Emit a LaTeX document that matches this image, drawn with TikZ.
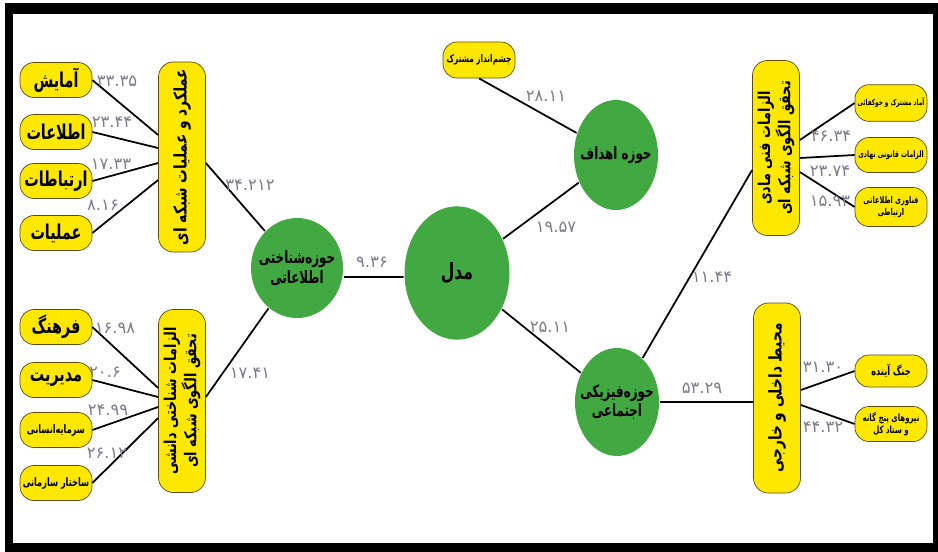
\documentclass[tikz,border=0pt]{standalone}
\usepackage{fontspec}
\usetikzlibrary{shapes.geometric}
\TeXXeTstate=1
\newfontfamily\fa[Script=Arabic]{DejaVu Sans}
\newfontfamily\fan[Script=Arabic,FakeStretch=0.7]{DejaVu Sans}
\newfontfamily\fav[Script=Arabic,FakeStretch=0.78]{DejaVu Sans}

\definecolor{boxyellow}{RGB}{255,232,0}
\definecolor{boxedge}{RGB}{95,75,10}
\definecolor{ballgreen}{RGB}{66,168,66}
\definecolor{numgray}{RGB}{125,125,138}

\tikzset{item/.style={draw=boxedge, fill=boxyellow, rounded corners=0.42cm, line width=0.6pt,
                      minimum width=2.16cm, minimum height=1.05cm, inner sep=1pt, align=center,
                      font=\fan\bfseries\fontsize{17.5}{19}\selectfont}}
\tikzset{vbox/.style={draw=boxedge, fill=boxyellow, rounded corners=0.45cm, line width=0.6pt,
                      rotate=90, minimum height=1.41cm, inner sep=1pt, align=center,
                      font=\fav\bfseries\fontsize{14}{15}\selectfont}}
\tikzset{ball/.style={ellipse, fill=ballgreen, inner sep=0pt}}
\tikzset{balltext/.style={align=center, font=\fan\bfseries\fontsize{14.5}{17}\selectfont}}
\tikzset{num/.style={text=numgray, inner sep=0pt, font=\fa\fontsize{14}{16}\selectfont}}

\begin{document}
\begin{tikzpicture}[x=0.03cm, y=-0.03cm]
\tikzstyle{every path}=[line width=1.5pt]
\useasboundingbox (0,0) rectangle (938,552);
\fill[white] (0,0) rectangle (938,552);
\fill[black] (5,3) rectangle (938,552);
\fill[white] (13,14) rectangle (933,543);

% left upper group
\node[item] (amayesh) at (56,80) {\beginR آمایش\endR};
\node[item] (etelaat) at (56,132) {\beginR اطلاعات\endR};
\node[item] (ertebatat) at (56,181) {\beginR ارتباطات\endR};
\node[item] (amaliat) at (56,233) {\beginR عملیات\endR};
\node[vbox, minimum width=5.7cm, font=\fav\bfseries\fontsize{15}{17}\selectfont] (amalkard) at (182,157) {\beginR عملکرد و عملیات شبکه ای\endR};

% left lower group
\node[item] (farhang) at (56,327) {\beginR فرهنگ\endR};
\node[item] (modiriat) at (56,380) {\beginR مدیریت\endR};
\node[item, font=\fan\bfseries\fontsize{10}{12}\selectfont] (sarmaye) at (56,430) {\beginR سرمایه‌انسانی\endR};
\node[item, font=\fan\bfseries\fontsize{10}{12}\selectfont] (sakhtar) at (56,483) {\beginR ساختار سازمانی\endR};
\node[vbox, minimum width=5.49cm] (shenakhtvb) at (182,401) {\beginR الزامات شناختی دانشی\endR\\\beginR تحقق الگوی شبکه ای\endR};

% domains
\node[ball, minimum width=2.76cm, minimum height=3cm,
      label={[balltext]center:\beginR حوزه‌شناختی\endR\\\beginR اطلاعاتی\endR}] (shenakhti) at (297,268) {};
\node[ball, minimum width=3.15cm, minimum height=4cm,
      label={[balltext, font=\fan\bfseries\fontsize{19}{21}\selectfont]center:\beginR مدل\endR}] (model) at (457,273) {};
\node[ball, minimum width=2.52cm, minimum height=3.3cm,
      label={[balltext]center:\beginR حوزه اهداف\endR}] (ahdaf) at (616,155) {};
\node[ball, minimum width=2.52cm, minimum height=3.24cm,
      label={[balltext]center:\beginR حوزه‌فیزیکی\endR\\\beginR اجتماعی\endR}] (fiziki) at (617,402) {};
\node[item, minimum height=1.08cm, font=\fan\bfseries\fontsize{9}{11}\selectfont] (cheshm) at (479,60) {\beginR چشم‌انداز مشترک\endR};

% right upper group
\node[vbox, minimum width=5.25cm] (fannivb) at (776,148) {\beginR الزامات فنی مادی\endR\\\beginR تحقق الگوی شبکه ای\endR};
\node[item, minimum height=1.1cm, font=\fan\bfseries\fontsize{7}{9}\selectfont] (amad) at (891,103) {\beginR آماد مشترک و خوکفائی\endR};
\node[item, minimum height=1.05cm, font=\fan\bfseries\fontsize{7.5}{9}\selectfont] (ghanuni) at (891,155) {\beginR الزامات قانونی نهادی\endR};
\node[item, minimum height=1.17cm, font=\fan\bfseries\fontsize{8}{10}\selectfont] (fanavari) at (891,207) {\beginR فناوری اطلاعاتی\endR\\\beginR ارتباطی\endR};

% right lower group
\node[vbox, minimum width=5.7cm, font=\fav\bfseries\fontsize{15}{17}\selectfont] (mohitvb) at (777,398) {\beginR محیط داخلی و خارجی\endR};
\node[item, minimum height=0.96cm, font=\fan\bfseries\fontsize{10}{12}\selectfont] (jang) at (891,371) {\beginR جنگ آینده\endR};
\node[item, minimum height=1.05cm, font=\fan\bfseries\fontsize{8.5}{10}\selectfont] (niruha) at (891,424) {\beginR نیروهای پنج گانه\endR\\\beginR و ستاد کل\endR};

% connectors (rotated boxes: north = left side, south = right side)
\draw (amayesh.east) -- ([yshift=0.66cm]amalkard.north);
\draw (etelaat.east) -- ([yshift=0.27cm]amalkard.north);
\draw (ertebatat.east) -- ([yshift=-0.18cm]amalkard.north);
\draw (amaliat.east) -- ([yshift=-0.69cm]amalkard.north);
\draw ([yshift=-0.18cm]amalkard.south) -- (shenakhti);

\draw (farhang.east) -- ([yshift=0.39cm]shenakhtvb.north);
\draw (modiriat.east) -- ([yshift=0.12cm]shenakhtvb.north);
\draw (sarmaye.east) -- ([yshift=-0.18cm]shenakhtvb.north);
\draw (sakhtar.east) -- ([yshift=-0.51cm]shenakhtvb.north);
\draw ([yshift=0.12cm]shenakhtvb.south) -- (shenakhti);

\draw ([yshift=-0.27cm]shenakhti.east) -- ([yshift=-0.12cm]model.west);
\draw (model) -- (ahdaf);
\draw (cheshm.south) -- (ahdaf);
\draw (model) -- (fiziki);
\draw (fiziki) -- ([yshift=-0.66cm]fannivb.north);
\draw (fiziki.east) -- (fiziki.east -| mohitvb.north);

\draw ([yshift=0.24cm]fannivb.south) -- (amad.west);
\draw ([yshift=-0.3cm]fannivb.south) -- (ghanuni.west);
\draw ([yshift=-0.72cm]fannivb.south) -- (fanavari.west);
\draw ([yshift=0.24cm]mohitvb.south) -- (jang.west);
\draw ([yshift=-0.21cm]mohitvb.south) -- (niruha.west);

% loadings
\node[num] (n1) at (117,81) {۳۳.۳۵};
\node[num] (n2) at (112,122) {۲۳.۴۴};
\node[num] (n3) at (111,164) {۱۷.۳۳};
\node[num] (n4) at (103,205) {۸.۱۶};
\node[num] (n5) at (250,185) {۳۴.۲۱۲};
\node[num] (n6) at (115,328) {۱۶.۹۸};
\node[num] (n7) at (105,372) {۲۰.۶};
\node[num] (n8) at (108,410) {۲۴.۹۹};
\node[num] (n9) at (107,453) {۲۶.۱۲};
\node[num] (n10) at (250,373) {۱۷.۴۱};
\node[num] (n11) at (372,262) {۹.۳۶};
\node[num] (n12) at (556,227) {۱۹.۵۷};
\node[num] (n13) at (546,96) {۲۸.۱۱};
\node[num] (n14) at (550,327) {۲۵.۱۱};
\node[num] (n15) at (712,277) {۱۱.۴۴};
\node[num] (n16) at (702,388) {۵۳.۲۹};
\node[num] (n17) at (831,136) {۴۶.۳۴};
\node[num] (n18) at (830,171) {۲۳.۷۴};
\node[num] (n19) at (830,201) {۱۵.۹۳};
\node[num] (n20) at (823,367) {۳۱.۳۰};
\node[num] (n21) at (823,427) {۴۴.۳۲};
\end{tikzpicture}
\end{document}
